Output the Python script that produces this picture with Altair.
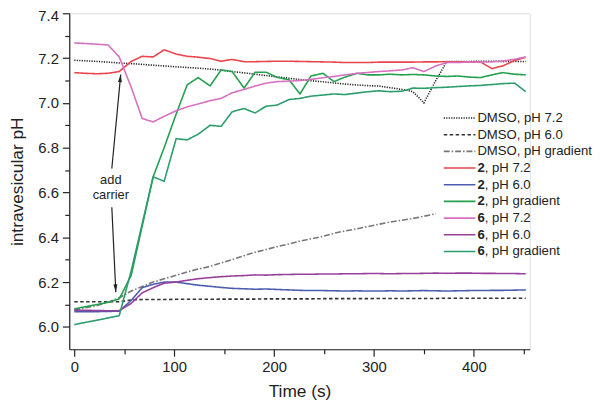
import altair as alt
import pandas as pd

time_s = [0, 11, 23, 34, 45, 57, 68, 79, 90, 102, 113, 124, 136, 147, 158, 170, 181, 192, 203, 215,
          226, 237, 249, 260, 271, 283, 294, 305, 316, 328, 339, 350, 362, 373, 384, 396, 407, 418,
          429, 441, 452]

series_names = ["DMSO, pH 7.2", "DMSO, pH 6.0", "DMSO, pH gradient",
                "2, pH 7.2", "2, pH 6.0", "2, pH gradient",
                "6, pH 7.2", "6, pH 6.0", "6, pH gradient"]
legend_prefix = ["", "", "", "2", "2", "2", "6", "6", "6"]
legend_suffix = ["DMSO, pH 7.2", "DMSO, pH 6.0", "DMSO, pH gradient",
                 ", pH 7.2", ", pH 6.0", ", pH gradient",
                 ", pH 7.2", ", pH 6.0", ", pH gradient"]

dmso_72 = [7.19, 7.188, 7.185, 7.182, 7.178, 7.175, 7.172, 7.168, 7.165, 7.161, 7.158, 7.155, 7.151,
           7.146, 7.14, 7.134, 7.128, 7.122, 7.116, 7.11, 7.104, 7.099, 7.094, 7.089, 7.084, 7.08,
           7.077, 7.075, 7.068, 7.06, 7.05, 7.0, 7.1, 7.185, 7.185, 7.185, 7.186, 7.186, 7.185,
           7.185, 7.185]
dmso_60 = [6.112, 6.112, 6.112, 6.112, 6.112, 6.12, 6.122, 6.122, 6.122, 6.123, 6.123, 6.123, 6.123,
           6.124, 6.124, 6.124, 6.124, 6.125, 6.125, 6.125, 6.125, 6.125, 6.126, 6.126, 6.126, 6.126,
           6.126, 6.127, 6.127, 6.127, 6.127, 6.127, 6.127, 6.128, 6.128, 6.128, 6.128, 6.128, 6.128,
           6.128, 6.128]
dmso_grad = [6.075, 6.085, 6.095, 6.11, 6.13, 6.16, 6.18, 6.2, 6.215, 6.23, 6.245, 6.258, 6.27,
             6.285, 6.3, 6.318, 6.333, 6.345, 6.358, 6.37, 6.383, 6.393, 6.404, 6.418, 6.428, 6.438,
             6.448, 6.458, 6.468, 6.476, 6.484, 6.494, 6.505, None, None, None, None, None, None,
             None, None]
c2_72 = [7.135, 7.132, 7.13, 7.132, 7.14, 7.185, 7.208, 7.205, 7.237, 7.218, 7.208, 7.204, 7.198,
         7.186, 7.194, 7.184, 7.184, 7.185, 7.186, 7.186, 7.185, 7.184, 7.183, 7.182, 7.18, 7.18,
         7.18, 7.182, 7.182, 7.182, 7.182, 7.183, 7.183, 7.184, 7.184, 7.183, 7.182, 7.153, 7.165,
         7.19, 7.203]
c2_60 = [6.068, 6.068, 6.068, 6.069, 6.07, 6.118, 6.175, 6.19, 6.2, 6.2, 6.193, 6.186, 6.181, 6.176,
         6.172, 6.17, 6.168, 6.169, 6.167, 6.165, 6.163, 6.162, 6.162, 6.161, 6.16, 6.161, 6.16,
         6.16, 6.161, 6.16, 6.161, 6.162, 6.161, 6.16, 6.161, 6.162, 6.162, 6.163, 6.163, 6.164,
         6.165]
c2_grad = [6.08, 6.09, 6.1, 6.11, 6.125, 6.23, 6.45, 6.67, 6.8, 6.95, 7.08, 7.113, 7.076, 7.147,
           7.14, 7.066, 7.137, 7.137, 7.114, 7.103, 7.04, 7.12, 7.132, 7.095, 7.115, 7.132, 7.125,
           7.125, 7.128, 7.125, 7.127, 7.125, 7.12, 7.118, 7.12, 7.115, 7.113, 7.125, 7.135, 7.128,
           7.125]
c6_72 = [7.268, 7.265, 7.262, 7.258, 7.205, 7.07, 6.93, 6.915, 6.94, 6.965, 6.982, 6.995, 7.01,
         7.02, 7.045, 7.06, 7.075, 7.088, 7.095, 7.097, 7.1, 7.105, 7.112, 7.118, 7.125, 7.132,
         7.136, 7.14, 7.143, 7.147, 7.157, 7.14, 7.165, 7.18, 7.18, 7.183, 7.182, 7.183, 7.187,
         7.195, 7.205]
c6_60 = [6.075, 6.074, 6.073, 6.072, 6.072, 6.105, 6.152, 6.175, 6.195, 6.2, 6.208, 6.215, 6.22,
         6.224, 6.227, 6.229, 6.232, 6.231, 6.233, 6.234, 6.235, 6.235, 6.236, 6.236, 6.237, 6.237,
         6.238, 6.238, 6.237, 6.238, 6.238, 6.239, 6.24, 6.239, 6.24, 6.24, 6.239, 6.239, 6.238,
         6.238, 6.237]
c6_grad = [6.01, 6.02, 6.03, 6.04, 6.05, 6.25, 6.46, 6.67, 6.65, 6.84, 6.835, 6.86, 6.9, 6.895,
           6.96, 6.975, 6.955, 6.985, 6.99, 7.015, 7.02, 7.03, 7.035, 7.04, 7.037, 7.044, 7.05,
           7.054, 7.05, 7.052, 7.066, 7.065, 7.068, 7.07, 7.073, 7.076, 7.078, 7.082, 7.086, 7.088,
           7.05]

series_values = [dmso_72, dmso_60, dmso_grad, c2_72, c2_60, c2_grad, c6_72, c6_60, c6_grad]
series_colors = ["#222222", "#333333", "#777777", "#e8454d", "#4c5db0", "#23a04f",
                 "#d870c0", "#96409a", "#2b9d6c"]
series_dashes = [[1.2, 1.3], [3.5, 2.5], [6, 2, 1.5, 2], [1, 0], [1, 0], [1, 0],
                 [1, 0], [1, 0], [1, 0]]

annot_text = ["add", "carrier"]
annot_t = [36.6, 36.6]
annot_ph = [6.654, 6.587]

arrow_id = ["up", "up", "down", "down"]
arrow_t = [37.6, 46.5, 37.6, 41.6]
arrow_ph = [6.707, 7.126, 6.534, 6.155]
head_t = [46.1, 41.4]
head_ph = [7.11, 6.172]
head_angle = [5.4, 177.4]

rows = []
for name, vals in zip(series_names, series_values):
    for t, v in zip(time_s, vals):
        if v is not None:
            rows.append({"series": name, "t": t, "ph": v})
df = pd.DataFrame(rows)

legend_df = pd.DataFrame({"series": series_names, "row": list(range(len(series_names))),
                          "prefix": legend_prefix, "suffix": legend_suffix})
annot_df = pd.DataFrame({"label": annot_text, "t": annot_t, "ph": annot_ph})
arrow_df = pd.DataFrame({"arrow": arrow_id, "t": arrow_t, "ph": arrow_ph})
head_df = pd.DataFrame({"t": head_t, "ph": head_ph, "ang": head_angle})

FONT = "Liberation Sans"
INK = "#222222"
LEG_FS = 13.3

x_scale = alt.Scale(domain=[-5, 456], nice=False, zero=False)
y_scale = alt.Scale(domain=[5.9, 7.4], nice=False, zero=False)
color_scale = alt.Scale(domain=series_names, range=series_colors)
dash_scale = alt.Scale(domain=series_names, range=series_dashes)

x_axis = alt.Axis(
    title="Time (s)",
    values=list(range(0, 451, 50)),
    labelExpr="datum.value % 100 === 0 ? datum.label : ''",
    tickSize={"condition": {"test": "datum.value % 100 === 0", "value": 7}, "value": 4.5},
    labelPadding=3, labelFontSize=15, titleFontSize=17.5, titleFontWeight="normal",
    titleX=233, titleY=43, titleBaseline="middle",
    grid=False, domainColor=INK, tickColor=INK, labelColor=INK, titleColor=INK,
    labelFont=FONT, titleFont=FONT, domainWidth=1.2, tickWidth=1.2,
)
y_vals = [round(6.0 + 0.1 * i, 1) for i in range(15)]
y_axis = alt.Axis(
    title="intravesicular pH",
    values=y_vals,
    labelExpr="round(datum.value * 10) % 2 === 0 ? format(datum.value, '.1f') : ''",
    tickSize={"condition": {"test": "round(datum.value * 10) % 2 === 0", "value": 7}, "value": 4.5},
    labelOffset={"condition": {"test": "datum.value > 7.35", "value": 2}, "value": 0},
    labelPadding=4, labelFontSize=15, titleFontSize=17.5, titleFontWeight="normal",
    titleX=-52, titleY=170, titleBaseline="middle",
    grid=False, domainColor=INK, tickColor=INK, labelColor=INK, titleColor=INK,
    labelFont=FONT, titleFont=FONT, domainWidth=1.2, tickWidth=1.2,
)

X = alt.X("t:Q", scale=x_scale, axis=x_axis)
Y = alt.Y("ph:Q", scale=y_scale, axis=y_axis)

lines = alt.Chart(df).mark_line(strokeWidth=1.6).encode(
    x=X, y=Y,
    color=alt.Color("series:N", scale=color_scale, legend=None),
    strokeDash=alt.StrokeDash("series:N", scale=dash_scale, legend=None),
    order=alt.Order("t:Q"),
)

arrows = alt.Chart(arrow_df).mark_line(color=INK, strokeWidth=1.2).encode(
    x=X, y=Y, detail="arrow:N", order=alt.Order("ph:Q"))

heads = alt.Chart(head_df).mark_point(
    shape="M0,-1L0.5,1L-0.5,1Z", filled=True, color=INK, opacity=1, size=64
).encode(x=X, y=Y, angle=alt.Angle("ang:Q", scale=None))

texts = alt.Chart(annot_df).mark_text(
    font=FONT, fontSize=13, color=INK, align="center", baseline="middle"
).encode(x=X, y=Y, text="label:N")

main_layer = alt.layer(lines, arrows, heads, texts)

# legend drawn as marks, rows placed by a point scale
row_y = alt.Y("row:O", scale=alt.Scale(type="point", domain=list(range(len(series_names))),
                                        range=[106, 241], padding=0), axis=None)
leg_base = alt.Chart(legend_df)
leg_lines = leg_base.mark_rule(strokeWidth=1.6).encode(
    x=alt.value(379), x2=alt.value(411), y=row_y,
    color=alt.Color("series:N", scale=color_scale, legend=None),
    strokeDash=alt.StrokeDash("series:N", scale=dash_scale, legend=None),
)
leg_plain = leg_base.transform_filter("datum.prefix === ''").mark_text(
    font=FONT, fontSize=LEG_FS, color=INK, align="left", baseline="middle"
).encode(x=alt.value(413), y=row_y, text="suffix:N")
leg_bold = leg_base.transform_filter("datum.prefix !== ''").mark_text(
    font=FONT, fontSize=LEG_FS, fontWeight="bold", color=INK, align="left", baseline="middle"
).encode(x=alt.value(413), y=row_y, text="prefix:N")
leg_rest = leg_base.transform_filter("datum.prefix !== ''").mark_text(
    font=FONT, fontSize=LEG_FS, color=INK, align="left", baseline="middle"
).encode(x=alt.value(420.4), y=row_y, text="suffix:N")

legend_layer = alt.layer(leg_lines, leg_plain, leg_bold, leg_rest)

chart = alt.layer(main_layer, legend_layer).resolve_scale(
    y="independent"
).properties(
    width=466, height=340,
    autosize=alt.AutoSizeParams(type="none"),
    padding={"left": 62, "top": 3, "right": 64, "bottom": 50},
).configure_view(stroke=None).configure(background="white")

chart.save("out.html", embed_options={"renderer": "svg", "actions": False})
